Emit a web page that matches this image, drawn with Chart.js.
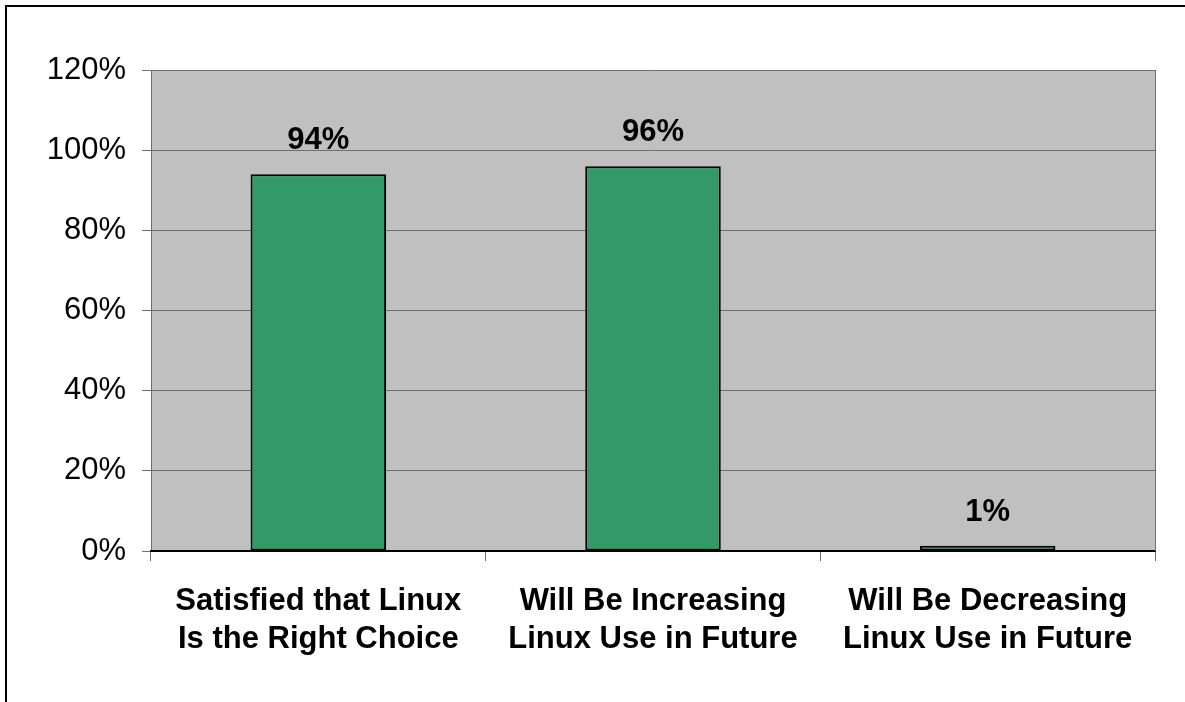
<!DOCTYPE html>
<html>
<head>
<meta charset="utf-8">
<script src="https://cdn.jsdelivr.net/npm/chart.js@4"></script>
<style>
  html, body { margin: 0; padding: 0; background: #fff; }
  #wrap { width: 1185px; height: 702px; position: relative; }
</style>
</head>
<body>
<div id="wrap"><canvas id="chart" width="1185" height="702"></canvas></div>
<script>
  const categories = [
    ['Satisfied that Linux', 'Is the Right Choice'],
    ['Will Be Increasing', 'Linux Use in Future'],
    ['Will Be Decreasing', 'Linux Use in Future']
  ];
  const values = [94, 96, 1.3];
  const tickValues = [0, 20, 40, 60, 80, 100, 120];

  // plot background, outer frame and value labels
  const decor = {
    id: 'decor',
    beforeDraw(chart) {
      const { ctx, chartArea: a } = chart;
      ctx.save();
      ctx.fillStyle = '#c0c0c0';
      ctx.fillRect(a.left, a.top, a.right - a.left, a.bottom - a.top);
      ctx.strokeStyle = '#000';
      ctx.lineWidth = 2;
      ctx.beginPath();
      ctx.moveTo(6, 702);
      ctx.lineTo(6, 6);
      ctx.lineTo(1185, 6);
      ctx.stroke();
      ctx.restore();
    },
    afterDatasetsDraw(chart) {
      const { ctx, chartArea: a } = chart;
      ctx.save();
      ctx.strokeStyle = '#707070';
      ctx.lineWidth = 1;
      ctx.beginPath();
      ctx.moveTo(a.right + 0.5, a.top);
      ctx.lineTo(a.right + 0.5, a.bottom);
      ctx.stroke();
      ctx.strokeStyle = '#000';
      ctx.lineWidth = 2;
      ctx.beginPath();
      ctx.moveTo(a.left, a.bottom);
      ctx.lineTo(a.right, a.bottom);
      ctx.stroke();
      ctx.fillStyle = '#000';
      ctx.font = 'bold 31px "Liberation Sans", Arial, sans-serif';
      ctx.textAlign = 'center';
      ctx.textBaseline = 'alphabetic';
      chart.getDatasetMeta(0).data.forEach((bar, i) => {
        ctx.fillText(Math.round(values[i]) + '%', bar.x, bar.y - 25);
      });
      ctx.restore();
    }
  };

  new Chart(document.getElementById('chart'), {
    type: 'bar',
    data: {
      labels: categories,
      datasets: [{
        data: values,
        backgroundColor: '#339966',
        borderColor: '#000',
        borderWidth: 2,
        borderSkipped: false,
        categoryPercentage: 1,
        barPercentage: 0.405
      }]
    },
    options: {
      responsive: false,
      animation: false,
      layout: { padding: { left: 0, top: 70, right: 30, bottom: 0 } },
      plugins: { legend: { display: false }, tooltip: { enabled: false } },
      scales: {
        y: {
          min: 0,
          max: 120,
          afterFit(s) { s.width = 151; },
          afterBuildTicks(s) { s.ticks = tickValues.map(v => ({ value: v })); },
          ticks: {
            callback: v => v + '%',
            color: '#000',
            padding: 16,
            font: { family: '"Liberation Sans", Arial, sans-serif', size: 31 }
          },
          grid: { color: '#707070', lineWidth: 1, tickLength: 9, drawTicks: true },
          border: { color: '#707070', width: 1 }
        },
        x: {
          afterFit(s) { s.height = 151; },
          ticks: {
            color: '#000',
            padding: 22,
            font: { family: '"Liberation Sans", Arial, sans-serif', size: 31, weight: 'bold', lineHeight: 1.22 }
          },
          grid: { offset: true, drawOnChartArea: false, drawTicks: true, tickLength: 10, color: '#707070' },
          border: { color: '#000', width: 2 }
        }
      }
    },
    plugins: [decor]
  });
</script>
</body>
</html>
